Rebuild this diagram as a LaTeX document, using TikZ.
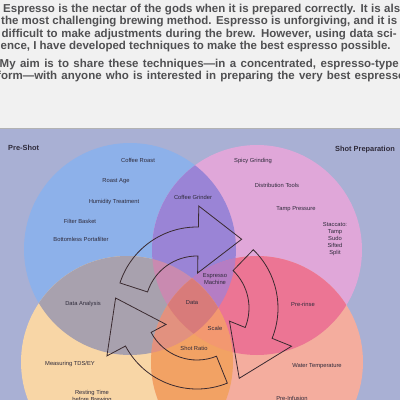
\documentclass[tikz,border=0pt]{standalone}
\usepackage{fontspec}
\setmainfont{Liberation Sans}
\newfontfamily\bodyfont{Liberation Sans}
\definecolor{pagebg}{HTML}{F1F1F1}
\definecolor{panelbg}{HTML}{A9B0D4}
\definecolor{bodytxt}{HTML}{505052}
\definecolor{labeltxt}{HTML}{2E2A3A}
\definecolor{cB}{HTML}{8DB1EA}
\definecolor{cP}{HTML}{E0A7D9}
\definecolor{cO}{HTML}{F8D6A6}
\definecolor{cR}{HTML}{F4AD9E}
\definecolor{cBP}{HTML}{9A84D6}
\definecolor{cBO}{HTML}{A8A1AE}
\definecolor{cPR}{HTML}{EC7594}
\definecolor{cOR}{HTML}{F2A264}
\definecolor{cBPR}{HTML}{B57DC4}
\definecolor{cBPO}{HTML}{C98AB0}
\definecolor{cBOR}{HTML}{E2917F}
\definecolor{cPOR}{HTML}{F39870}
\definecolor{cALL}{HTML}{D87B7A}
\definecolor{arrowline}{HTML}{3A2A30}
\newcommand\cirB{(130,249) circle[radius=106]}
\newcommand\cirP{(257,250) circle[radius=105]}
\newcommand\cirO{(127,362) circle[radius=106]}
\newcommand\cirR{(257,362) circle[radius=106]}
\newcommand\cyclearrow[3]{%
  \draw[cyc] (#1:81) arc[start angle=#1, end angle=#2, radius=81] -- (#2:102) -- (#3:82) -- (#2:35) -- (#2:52) arc[start angle=#2, end angle=#1, radius=52] -- cycle;}
\tikzset{
  bodyline/.style={anchor=base west, inner sep=0, font=\bodyfont\bfseries\fontsize{11.5}{13}\selectfont, text=bodytxt},
  lbl/.style={inner sep=0, align=center, font=\fontsize{5.8}{7}\selectfont, text=labeltxt},
  head/.style={inner sep=0, anchor=west, font=\bfseries\fontsize{7.4}{9}\selectfont, text=labeltxt},
  cyc/.style={draw=arrowline, line width=0.8pt, line join=miter}
}
\begin{document}
\begin{tikzpicture}[x=1pt,y=-1pt]
\useasboundingbox (0,0) rectangle (400,400);
\clip (0,0) rectangle (400,400);
\fill[pagebg] (0,0) rectangle (400,128);
\fill[panelbg] (0,128) rectangle (400,400);
\draw[gray!60, line width=0.6pt] (0,128) -- (400,128);
% text
\node[bodyline] (l1) at (3,12) {\makebox[404pt][s]{Espresso is the nectar of the gods when it is prepared correctly. It is also}};
\node[bodyline] (l2) at (1,24.5) {\makebox[396pt][s]{the most challenging brewing method. Espresso is unforgiving, and it is}};
\node[bodyline] (l3) at (1.5,37) {\makebox[395pt][s]{difficult to make adjustments during the brew. However, using data sci-}};
\node[bodyline] (l4) at (0.5,49.5) {\makebox[390pt][s]{ence, I have developed techniques to make the best espresso possible.}};
\node[bodyline] (l5) at (-0.5,67) {\makebox[399pt][s]{My aim is to share these techniques—in a concentrated, espresso-type}};
\node[bodyline] (l6) at (-3,79.5) {\makebox[408pt][s]{form—with anyone who is interested in preparing the very best espresso}};
% venn singles
\fill[cB] \cirB;
\fill[cP] \cirP;
\fill[cO] \cirO;
\fill[cR] \cirR;
% pairs
\begin{scope}\clip \cirB; \fill[cBP] \cirP; \end{scope}
\begin{scope}\clip \cirB; \fill[cBO] \cirO; \end{scope}
\begin{scope}\clip \cirP; \fill[cPR] \cirR; \end{scope}
\begin{scope}\clip \cirO; \fill[cOR] \cirR; \end{scope}
% triples
\begin{scope}\clip \cirB; \clip \cirP; \fill[cBPR] \cirR; \end{scope}
\begin{scope}\clip \cirB; \clip \cirP; \fill[cBPO] \cirO; \end{scope}
\begin{scope}\clip \cirB; \clip \cirO; \fill[cBOR] \cirR; \end{scope}
\begin{scope}\clip \cirP; \clip \cirO; \fill[cPOR] \cirR; \end{scope}
% quad
\begin{scope}\clip \cirB; \clip \cirP; \clip \cirO; \fill[cALL] \cirR; \end{scope}
% headers
\node[head] (preshot) at (8,148) {Pre-Shot};
\node[head] (shotprep) at (335,150) {Shot Preparation};
% labels
\node[lbl] (roast) at (138,160) {Coffee Roast};
\node[lbl] (age) at (116,181) {Roast Age};
\node[lbl] (humid) at (114,202) {Humidity Treatment};
\node[lbl] (basket) at (80,221) {Filter Basket};
\node[lbl] (bottomless) at (81,239) {Bottomless Portafilter};
\node[lbl] (grinder) at (193,197) {Coffee Grinder};
\node[lbl] (spicy) at (253,161) {Spicy Grinding};
\node[lbl] (distr) at (277,185) {Distribution Tools};
\node[lbl] (tamp) at (296,209) {Tamp Pressure};
\node[lbl] (stacc) at (335,239) {Staccato:\\Tamp\\Sudo\\Sifted\\Split};
\node[lbl] (machine) at (215,279.5) {Espresso\\Machine};
\node[lbl] (analysis) at (83,304) {Data Analysis};
\node[lbl] (data) at (192,303) {Data};
\node[lbl] (prerinse) at (303,304) {Pre-rinse};
\node[lbl] (scale) at (215,328) {Scale};
\node[lbl] (ratio) at (194,348) {Shot Ratio};
\node[lbl] (tds) at (70,364) {Measuring TDS/EY};
\node[lbl] (water) at (317,366) {Water Temperature};
\node[lbl] (resting) at (92,396.5) {Resting Time\\before Brewing};
\node[lbl] (preinf) at (292,398) {Pre-Infusion};
% cycle arrows
\begin{scope}[shift={(197,308)}, yscale=-1]
\cyclearrow{162}{89}{57}
\cyclearrow{46}{-22}{-59}
\cyclearrow{-68}{-152}{-187}
\end{scope}
\end{tikzpicture}
\end{document}
